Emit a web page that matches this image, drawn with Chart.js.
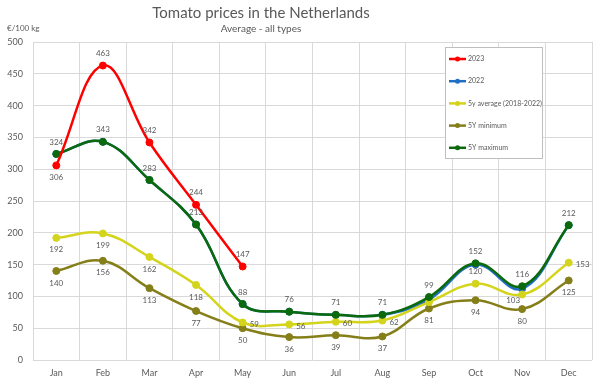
<!DOCTYPE html>
<html>
<head>
<meta charset="utf-8">
<title>Tomato prices in the Netherlands</title>
<script src="https://cdn.jsdelivr.net/npm/chart.js@4.4.1/dist/chart.umd.min.js"></script>
<style>
  html, body { margin: 0; padding: 0; background: #fff; }
  #wrap { width: 600px; height: 388px; position: relative; }
</style>
</head>
<body>
<div id="wrap"><canvas id="tomatoChart"></canvas></div>
<script>
// categories and series
const months = ['Jan', 'Feb', 'Mar', 'Apr', 'May', 'Jun', 'Jul', 'Aug', 'Sep', 'Oct', 'Nov', 'Dec'];
const yTicks = [0, 50, 100, 150, 200, 250, 300, 350, 400, 450, 500];

const prices2023 = [306, 463, 342, 244, 147, null, null, null, null, null, null, null];
const prices2022 = [324, 343, 283, 213, 88, 76, 71, 71, 95, 150, 112, 212];
const avg5y = [192, 199, 162, 118, 59, 56, 60, 62, 91, 120, 103, 153];
const min5y = [140, 156, 113, 77, 50, 36, 39, 37, 81, 94, 80, 125];
const max5y = [324, 343, 283, 213, 88, 76, 71, 71, 99, 152, 116, 212];

// where each value label sits: a = above, b = below, r = right, l = left-below, n = none
const labelPos2023 = ['b', 'a', 'a', 'a', 'a'];
const labelPosAvg = ['b', 'b', 'b', 'b', 'r', 'r', 'r', 'r', 'n', 'a', 'l', 'r'];
const labelPosMin = ['b', 'b', 'b', 'b', 'b', 'b', 'b', 'b', 'b', 'b', 'b', 'b'];
const labelPosMax = ['a', 'a', 'a', 'a', 'a', 'a', 'a', 'a', 'a', 'a', 'a', 'a'];

const FONT = 'Lato, "Open Sans", sans-serif';
const GREY = '#595959';

function series(label, data, color, labelPos, order) {
    return {
        label: label,
        data: data,
        borderColor: color,
        backgroundColor: color,
        pointBackgroundColor: color,
        pointBorderColor: color,
        pointRadius: 3.5,
        pointBorderWidth: 1,
        pointHoverRadius: 3.5,
        borderWidth: 2.5,
        tension: 0.4,
        fill: false,
        spanGaps: false,
        order: order,
        labelPos: labelPos
    };
}

// value labels drawn next to the points
const valueLabels = {
    id: 'valueLabels',
    afterDatasetsDraw(chart) {
        const ctx = chart.ctx;
        ctx.save();
        ctx.font = '8px ' + FONT;
        ctx.fillStyle = GREY;
        ctx.textBaseline = 'middle';
        chart.data.datasets.forEach((ds, i) => {
            if (!ds.labelPos) return;
            const meta = chart.getDatasetMeta(i);
            meta.data.forEach((pt, j) => {
                const v = ds.data[j];
                const pos = ds.labelPos[j];
                if (v == null || !pos || pos === 'n') return;
                let x = pt.x, y = pt.y;
                ctx.textAlign = 'center';
                if (pos === 'a') y -= 12;
                else if (pos === 'b') y += 12;
                else if (pos === 'r') { x += 7; y += 2; ctx.textAlign = 'left'; }
                else if (pos === 'l') { x -= 9; y += 6; }
                ctx.fillText(String(v), x, y);
            });
        });
        ctx.restore();
    }
};

// titles, unit and the boxed legend
const decorations = {
    id: 'decorations',
    afterDraw(chart) {
        const ctx = chart.ctx;
        ctx.save();
        ctx.fillStyle = GREY;
        ctx.textAlign = 'center';
        ctx.textBaseline = 'middle';
        ctx.font = '15px ' + FONT;
        ctx.fillText('Tomato prices in the Netherlands', 261, 13);
        ctx.font = '10px ' + FONT;
        ctx.fillText('Average - all types', 261, 29);
        ctx.textAlign = 'left';
        ctx.font = '8px ' + FONT;
        ctx.fillText('€/100 kg', 7, 28);

        // legend box
        const bx = 445.5, by = 47.5, bw = 97, bh = 111;
        ctx.fillStyle = '#ffffff';
        ctx.fillRect(bx, by, bw, bh);
        ctx.strokeStyle = '#bfbfbf';
        ctx.lineWidth = 1;
        ctx.strokeRect(bx, by, bw, bh);
        ctx.font = '7px ' + FONT;
        chart.data.datasets.forEach((ds, i) => {
            const ly = 59 + i * 22.2;
            ctx.strokeStyle = ds.borderColor;
            ctx.lineWidth = 2.5;
            ctx.beginPath();
            ctx.moveTo(449, ly);
            ctx.lineTo(466, ly);
            ctx.stroke();
            ctx.fillStyle = ds.borderColor;
            ctx.beginPath();
            ctx.arc(457.5, ly, 2.5, 0, Math.PI * 2);
            ctx.fill();
            ctx.fillStyle = GREY;
            ctx.fillText(ds.label, 468, ly);
        });
        ctx.restore();
    }
};

const chartConfig = {
    type: 'line',
    data: {
        labels: months,
        datasets: [
            series('2023', prices2023, '#ff0000', labelPos2023, 1),
            series('2022', prices2022, '#1f6fc5', null, 5),
            series('5y average (2018-2022)', avg5y, '#d4d41c', labelPosAvg, 3),
            series('5Y minimum', min5y, '#857f1a', labelPosMin, 4),
            series('5Y maximum', max5y, '#0b6a0b', labelPosMax, 2)
        ]
    },
    options: {
        responsive: false,
        animation: false,
        layout: { padding: { top: 42, right: 8, bottom: 0, left: 0 } },
        plugins: {
            legend: { display: false },
            title: { display: false },
            tooltip: { enabled: false }
        },
        scales: {
            x: {
                offset: true,
                grid: { offset: true, color: '#d9d9d9', drawTicks: false },
                border: { display: false },
                ticks: { color: GREY, font: { family: FONT, size: 9 }, padding: 8 },
                afterFit: (s) => { s.height = 28; }
            },
            y: {
                min: 0,
                max: 500,
                afterBuildTicks: (s) => { s.ticks = yTicks.map(v => ({ value: v })); },
                grid: { color: '#d9d9d9', drawTicks: false },
                border: { display: false },
                ticks: { color: GREY, font: { family: FONT, size: 9 }, padding: 10 },
                afterFit: (s) => { s.width = 33; }
            }
        }
    },
    plugins: [valueLabels, decorations]
};

const canvas = document.getElementById('tomatoChart');
canvas.width = 600;
canvas.height = 388;
const tomatoChart = new Chart(canvas, chartConfig);
</script>
</body>
</html>
